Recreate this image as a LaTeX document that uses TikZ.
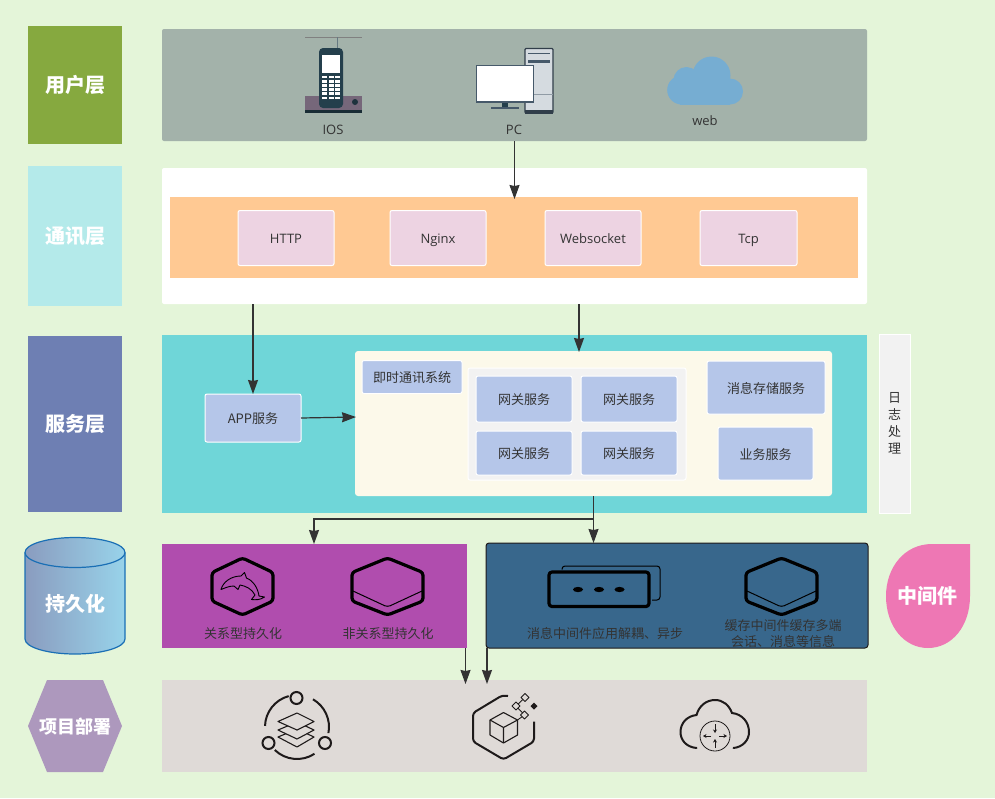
\documentclass[tikz,border=0pt]{standalone}
\usepackage{fontspec}
\usepackage{xcolor}
\setmainfont{Noto Sans CJK SC}
\newfontfamily\latinfont{Open Sans}
\usetikzlibrary{
    shapes.geometric,
    arrows.meta,
    positioning
}
\definecolor{pagegreen}{HTML}{E4F5D9}
\definecolor{usergreen}{HTML}{86A93F}
\definecolor{commcyan}{HTML}{B4EAEA}
\definecolor{svcblue}{HTML}{6E7FB3}
\definecolor{deploypurple}{HTML}{AD98BD}
\definecolor{midpink}{HTML}{EE77B4}
\definecolor{userpanelgrey}{HTML}{A3B2AA}
\definecolor{orangeband}{HTML}{FFC993}
\definecolor{protopink}{HTML}{EDD3E2}
\definecolor{svcteal}{HTML}{6FD6D8}
\definecolor{cream}{HTML}{FCF9EA}
\definecolor{boxblue}{HTML}{B5C6E9}
\definecolor{storepurple}{HTML}{B04DAE}
\definecolor{midnavy}{HTML}{38678C}
\definecolor{deploygrey}{HTML}{DFDAD7}
\definecolor{inkgrey}{HTML}{333333}
\definecolor{lightgrey}{HTML}{F2F2F2}
\definecolor{phonedark}{HTML}{243F4C}
\definecolor{phonebase}{HTML}{76677A}
\definecolor{pcline}{HTML}{46596A}
\definecolor{pcbody}{HTML}{D5DBE0}
\definecolor{cloudblue}{HTML}{76ADD2}
\definecolor{icondark}{HTML}{1E1A1A}
\definecolor{cylleft}{HTML}{8A9CBF}
\definecolor{cylright}{HTML}{98D3EA}
\definecolor{cyledge}{HTML}{1A6FB5}

\begin{document}
\begin{tikzpicture}[
        x=1pt, y=-1pt,
        every node/.style={inner sep=0pt, outer sep=0pt},
        layer/.style={minimum width=94pt, text=white, font=\fontsize{20}{24}\selectfont\bfseries},
        panel/.style={rounded corners=2pt, minimum width=705pt},
        svcbox/.style={draw=white, line width=1pt, rounded corners=2pt, fill=boxblue, text=inkgrey, text height=12pt, text depth=1pt, font=\fontsize{13}{16}\selectfont},
        protobox/.style={svcbox, fill=protopink, minimum width=96pt, minimum height=55pt, font=\fontsize{13}{16}\selectfont\latinfont},
        gatebox/.style={svcbox, minimum width=96pt},
        label/.style={text=inkgrey, font=\fontsize{13}{16}\selectfont},
        iconlabel/.style={label, text height=12pt, text depth=1pt, font=\fontsize{13}{15}\selectfont\latinfont},
        arrow/.style={-{Stealth[length=14pt, width=10pt, inset=1pt]}, line width=1.2pt, draw=inkgrey},
        icon/.style={draw=black, line width=3.2pt, line join=round, rounded corners=3pt},
        thinicon/.style={draw=icondark, line width=1.1pt, line join=round}
    ]
        \useasboundingbox (0,0) rectangle (995,798);
        \fill[pagegreen] (0,0) rectangle (995,798);

        % Left column
        \node[layer, fill=usergreen, minimum height=118pt] (user) at (75,85) {用户层};
        \node[layer, fill=commcyan, minimum height=140pt] (comm) at (75,236) {通讯层};
        \node[layer, fill=svcblue, minimum height=176pt] (svc) at (75,424) {服务层};
        \path[draw=cyledge, line width=1.2pt, left color=cylleft, right color=cylright] (25,552.5) -- (25,639)
            arc[start angle=180, end angle=360, x radius=50pt, y radius=15pt] -- (125,552.5)
            arc[start angle=0, end angle=180, x radius=50pt, y radius=15pt] -- cycle;
        \draw[cyledge, line width=1.2pt] (25,552.5) arc[start angle=180, end angle=360, x radius=50pt, y radius=15pt];
        \node[text=white, font=\fontsize{20}{24}\selectfont\bfseries] (store) at (75,604) {持久化};
        \fill[deploypurple] (28,726) -- (47,680) -- (103,680) -- (122,726) -- (103,772) -- (47,772) -- cycle;
        \node[text=white, font=\fontsize{18}{20}\selectfont\bfseries] (deploy) at (75,727) {项目部署};

        % Right column
        \fill[midpink] (970,544) -- (932,544) .. controls (904,544) and (886,568) .. (886,596)
            .. controls (886,626) and (904,648) .. (928,648) .. controls (952,648) and (970,626) .. (970,596) -- cycle;
        \node[text=white, font=\fontsize{20}{24}\selectfont\bfseries] (middle) at (927,596) {中间件};
        \node[draw=white, line width=1pt, fill=lightgrey, minimum width=31pt, minimum height=179pt, align=center,
            text=inkgrey, font=\fontsize{13}{17}\selectfont] (log) at (894.5,423.5) {日\\志\\处\\理};

        % User layer
        \node[panel, fill=userpanelgrey, minimum height=112pt] (userpanel) at (514.5,85) {};
        \node[iconlabel] (ios) at (333,129) {IOS};
        \node[iconlabel] (pc) at (514,129) {PC};
        \node[iconlabel] (web) at (705,120) {web};

        % Phone
        \draw[gray, line width=0.6pt] (305,37) -- (362,37);
        \draw[phonedark!70, line width=1pt] (337,37) -- (337,50);
        \fill[phonebase] (305,96) rectangle (362,113);
        \fill[phonedark!70!black] (305,110) rectangle (362,113);
        \fill[phonedark!80!black] (355,102) circle (3pt);
        \fill[phonedark, rounded corners=4pt] (319,48) rectangle (343,108);
        \fill[white] (322,55) rectangle (340,73);
        \foreach \row in {0,...,5} {
            \foreach \col in {0,1,2} {
                \fill[white] (322+6.5*\col, 75.5+4.2*\row) rectangle +(5,2.8);
            }
        }

        % Desktop
        \draw[pcline!70!black, fill=pcbody, line width=1.2pt, rounded corners=1pt] (525,48.5) rectangle (553,113);
        \fill[pcline!70!black] (525,110) rectangle (553,113.5);
        \fill[pcline] (528,52.5) rectangle (550,54);
        \fill[pcline] (528,59.5) rectangle (550,63);
        \draw[pcline!60, line width=0.7pt] (534,94) -- (553,94);
        \fill[phonedark] (502,102) rectangle (508,107);
        \fill[pcline] (491,106.5) rectangle (519,108.5);
        \draw[pcline, fill=white, line width=1.2pt] (476.5,65.5) rectangle (533.5,102);

        % Cloud
        \fill[cloudblue] (680,80) rectangle (730,104.5);
        \fill[cloudblue] (711.5,75.5) circle (19pt);
        \fill[cloudblue] (686.5,80) circle (13pt);
        \fill[cloudblue] (681.7,90) circle (14.5pt);
        \fill[cloudblue] (730,91.5) circle (13pt);

        % Communication layer
        \node[panel, fill=white, minimum height=136pt] (commpanel) at (514.5,236) {};
        \node[fill=orangeband, minimum width=688pt, minimum height=81pt] (band) at (514,237.5) {};
        \node[protobox] (http) at (286,238) {HTTP};
        \node[protobox] (nginx) at (438,238) {Nginx};
        \node[protobox] (websocket) at (593,238) {Websocket};
        \node[protobox, minimum width=97pt] (tcp) at (748.5,238) {Tcp};

        % Service layer
        \node[panel, fill=svcteal, rounded corners=0pt, minimum height=178pt] (svcpanel) at (514.5,424) {};
        \node[svcbox, minimum width=96pt, minimum height=48pt] (app) at (253,418) {APP服务};
        \node[fill=cream, rounded corners=3pt, minimum width=477pt, minimum height=145pt] (im) at (593.5,423.5) {};
        \node[svcbox, minimum width=100pt, minimum height=33pt] (imname) at (412,377) {即时通讯系统};
        \node[draw=white, line width=1pt, fill=lightgrey, rounded corners=2pt, minimum width=218pt, minimum height=112pt] (gategroup) at (577,424) {};
        \node[gatebox, minimum height=46pt] (gatea) at (524,399) {网关服务};
        \node[gatebox, minimum height=46pt] (gateb) at (629,399) {网关服务};
        \node[gatebox, minimum height=44pt] (gatec) at (524,453) {网关服务};
        \node[gatebox, minimum height=44pt] (gated) at (629,453) {网关服务};
        \node[svcbox, minimum width=118pt, minimum height=53pt] (msgstore) at (766,387.5) {消息存储服务};
        \node[svcbox, minimum width=95pt, minimum height=53pt] (biz) at (765.5,453.5) {业务服务};

        % Persistence panel
        \node[fill=storepurple, minimum width=305pt, minimum height=104pt] (persist) at (314.5,596) {};
        \node[label] (relational) at (243,634) {关系型持久化};
        \node[label] (nonrelational) at (388,634) {非关系型持久化};
        % hexagon with dolphin
        \draw[icon] (242.5,558) -- (273,572.5) -- (273,601) -- (242.5,615) -- (212,601) -- (212,572.5) -- cycle;
        \draw[draw=black, line width=0.9pt, line join=round] (221,589.5) .. controls (223,582) and (231,576) .. (241,576)
            -- (244.5,572.5) -- (246.5,578) .. controls (254,581) and (258,589) .. (259,596) -- (264.5,597)
            .. controls (260,600) and (256,600) .. (251.5,599.5) -- (255,595) .. controls (252,589) and (246,586) .. (240,585)
            -- (238,589.5) -- (234,586) .. controls (229,586) and (225,588) .. (221,589.5) -- cycle;
        % hexagon chip
        \draw[icon] (387.5,558) -- (423,572.5) -- (423,601) -- (387.5,615) -- (352,601) -- (352,572.5) -- cycle;
        \draw[black, line width=1pt, rounded corners=3pt] (353,591) -- (387.5,607) -- (422,591);

        % Middleware panel
        \node[draw=icondark, line width=1pt, fill=midnavy, rounded corners=3pt, minimum width=382pt, minimum height=105pt] (mw) at (677,595.5) {};
        \node[label] (mq) at (605,634) {消息中间件应用解耦、异步};
        \node[label, align=center] (cache) at (783,634) {缓存中间件缓存多端\\会话、消息等信息};
        % stacked cards
        \draw[black, line width=1pt, rounded corners=3pt] (562,569.5) -- (562,566) -- (660,566) -- (660,600) -- (652,600);
        \draw[icon] (549,572) rectangle (649,606.5);
        \fill[black] (578,589.5) ellipse (5pt and 2.6pt);
        \fill[black] (599,589.5) ellipse (5pt and 2.6pt);
        \fill[black] (619.5,589.5) ellipse (5pt and 2.6pt);
        % hexagon chip
        \draw[icon] (781.5,558) -- (817,572.5) -- (817,601) -- (781.5,615) -- (746,601) -- (746,572.5) -- cycle;
        \draw[black, line width=1pt, rounded corners=3pt] (747,591) -- (781.5,607) -- (816,591);

        % Deploy panel
        \node[fill=deploygrey, minimum width=705pt, minimum height=92pt] (deploypanel) at (514.5,726) {};
        % cycle of layers
        \draw[icondark, line width=2pt] (288.7,696.1) arc[start angle=105, end angle=178, radius=32pt];
        \draw[icondark, line width=2pt] (313,699.3) arc[start angle=60, end angle=-11, radius=32pt];
        \draw[icondark, line width=2pt] (274.8,750) arc[start angle=226, end angle=303, radius=32pt];
        \draw[icondark, line width=2pt] (296.5,698) circle (6pt);
        \draw[icondark, line width=2pt] (268.5,743) circle (6pt);
        \draw[icondark, line width=2pt] (325,743) circle (6pt);
        \draw[thinicon, fill=deploygrey] (278,737) -- (297,729) -- (314,737) -- (297,747) -- cycle;
        \draw[thinicon, fill=deploygrey] (278,730) -- (297,722) -- (314,730) -- (297,739) -- cycle;
        \draw[thinicon, fill=deploygrey] (278,721.5) -- (297,713) -- (314,721.5) -- (297,730) -- cycle;
        % broken hexagon with cube
        \draw[icondark, line width=2pt, rounded corners=3pt] (508,696) -- (502,695.5) -- (473,713) -- (473,741.5) -- (503.5,759.5) -- (534,741.5) -- (534,721.5);
        \draw[thinicon] (503.5,712.5) -- (517.5,720) -- (517.5,735) -- (503.5,743) -- (490,735) -- (490,720) -- cycle;
        \draw[thinicon] (490,720) -- (503.5,727.5) -- (517.5,720) (503.5,727.5) -- (503.5,743);
        \draw[thinicon, line width=0.9pt] (525,697.5) -- (516,706) -- (524.5,715) -- (517.5,720);
        \foreach \cx/\cy in {525/697.5, 516/706, 524.5/715} {
            \draw[thinicon, line width=0.9pt, fill=deploygrey] (\cx-4,\cy) -- (\cx,\cy-4) -- (\cx+4,\cy) -- (\cx,\cy+4) -- cycle;
        }
        \fill[icondark] (530.5,706) -- (534,702.5) -- (537.5,706) -- (534,709.5) -- cycle;
        % cloud with router
        \draw[icondark, line width=2pt, line cap=round] (696.5,748) .. controls (686,747) and (680.5,740) .. (680.5,732)
            .. controls (680.5,723) and (687,716) .. (696.5,715) .. controls (699,706) and (706,700) .. (715,700)
            .. controls (723,700) and (729,705) .. (732,713) .. controls (742,714) and (749,722) .. (749,732)
            .. controls (749,740) and (743,747) .. (733.5,748);
        \draw[icondark, line width=0.8pt] (715,736) circle (15pt);
        \draw[-{Stealth[length=3.5pt,width=4pt]}, icondark, line width=0.8pt] (715,724) -- (715,733);
        \draw[-{Stealth[length=3.5pt,width=4pt]}, icondark, line width=0.8pt] (715,748) -- (715,739);
        \draw[-{Stealth[length=3.5pt,width=4pt]}, icondark, line width=0.8pt] (711,736) -- (703,736);
        \draw[-{Stealth[length=3.5pt,width=4pt]}, icondark, line width=0.8pt] (719,736) -- (727,736);

        % Arrows
        \coordinate (bandtop) at (514.5,199);
        \coordinate (imtop) at (579,352);
        \coordinate (imleft) at (356,417);
        \coordinate (branch) at (593.5,519);
        \coordinate (persisttop) at (314,544);
        \coordinate (deploya) at (465.5,684);
        \coordinate (deployb) at (487,684);
        \draw[arrow] (userpanel.south) -- (bandtop);
        \draw[arrow] (commpanel.south -| app) -- (app.north);
        \draw[arrow] (commpanel.south -| imtop) -- (imtop);
        \draw[arrow] (app.east) -- (imleft);
        \draw[arrow] (im.south) -- (im.south |- mw.north);
        \draw[arrow] (branch) -| (persisttop);
        \draw[arrow] (persist.south -| deploya) -- (deploya);
        \draw[arrow] (mw.south -| deployb) -- (deployb);
    \end{tikzpicture}
\end{document}
